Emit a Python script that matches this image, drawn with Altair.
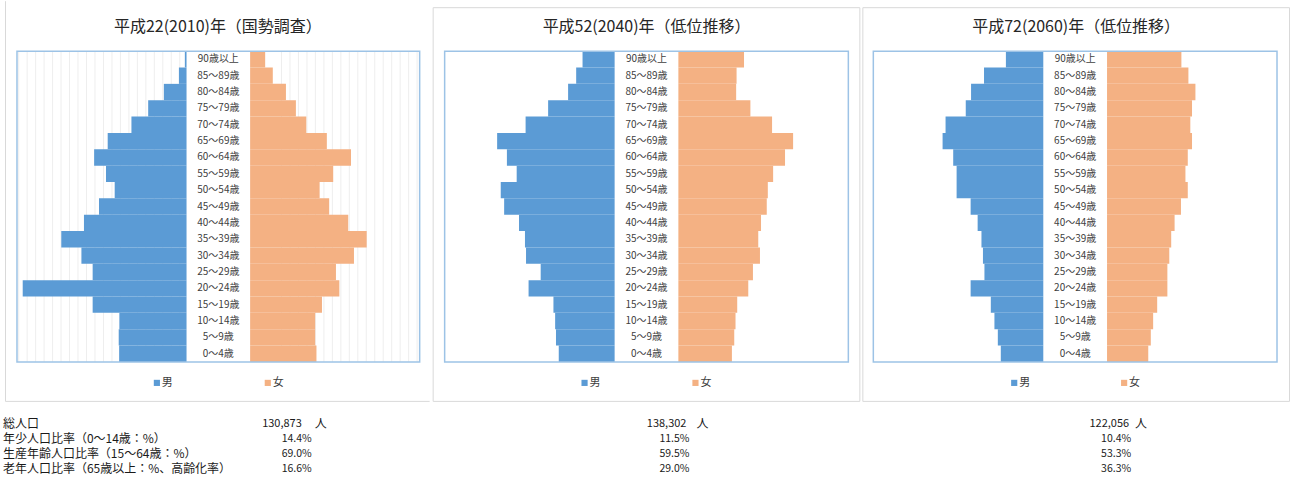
import altair as alt
import pandas as pd

# ---------------- data ----------------
ages_top = ["90歳以上", "85～89歳", "80～84歳", "75～79歳", "70～74歳", "65～69歳",
            "60～64歳", "55～59歳", "50～54歳", "45～49歳", "40～44歳", "35～39歳",
            "30～34歳", "25～29歳", "20～24歳", "15～19歳", "10～14歳", "5～9歳", "0～4歳"]

male_2010 = [80, 360, 1070, 1810, 2600, 3720, 4360, 3800, 3390, 4130, 4840, 5910,
             4960, 4430, 7730, 4430, 3170, 3200, 3180]
female_2010 = [710, 1070, 1690, 2160, 2650, 3620, 4760, 3920, 3280, 3730, 4630, 5500,
               4900, 4050, 4210, 3390, 3070, 3070, 3130]
male_2040 = [1510, 1810, 2190, 3130, 4190, 5530, 5070, 4610, 5360, 5200, 4500, 4220,
             4170, 3480, 4050, 2880, 2800, 2760, 2630]
female_2040 = [3090, 2740, 2720, 3390, 4410, 5400, 5020, 4460, 4210, 4160, 3890, 3760,
               3840, 3510, 3290, 2770, 2690, 2630, 2520]
male_2060 = [1760, 2790, 3400, 3650, 4600, 4740, 4240, 4080, 4080, 3420, 3090, 2910,
             2840, 2770, 3420, 2470, 2300, 2140, 2000]
female_2060 = [3500, 3830, 4160, 4000, 3920, 4000, 3800, 3690, 3800, 3480, 3180, 3020,
               2930, 2840, 2840, 2360, 2170, 2060, 1940]

titles = ["平成22(2010)年（国勢調査）", "平成52(2040)年（低位推移）", "平成72(2060)年（低位推移）"]
series = ["男", "女"]
total_pop = [130873, 138302, 122056]
young_pct = [14.4, 11.5, 10.4]
working_pct = [69.0, 59.5, 53.3]
old_pct = [16.6, 29.0, 36.3]
stat_labels = ["総人口", "年少人口比率（0～14歳：%）", "生産年齢人口比率（15～64歳：%）",
               "老年人口比率（65歳以上：%、高齢化率）"]
unit_label = "人"

males = [male_2010, male_2040, male_2060]
females = [female_2010, female_2040, female_2060]

# ---------------- style / layout ----------------
FONT = "Noto Sans CJK JP"
MALE_C = "#5B9BD5"
FEMALE_C = "#F4B183"
FRAME_C = "#9DC3E6"
CARD_C = "#D9D9D9"
TXT = "#404040"
G = 3000          # gap (in axis units) reserved for the age-label column
XMAX = 8000
FT, FB = 50, 361  # plot-area top / bottom
PW, PH = 430, 481

layout = [
    dict(fl=17, fr=420, tx=218, lm=157, lf=268, num_r=302, unit_l=315, pct_r=312,
         card="p1"),
    dict(fl=14, fr=418, tx=216, lm=154, lf=265, num_r=256, unit_l=266, pct_r=259,
         card=(2.5, 6.5, 429.5, 400.5)),
    dict(fl=13, fr=417, tx=216, lm=154, lf=264, num_r=269, unit_l=275, pct_r=271,
         card=(2.5, 6.5, 429.5, 400.5)),
]
ROWS_Y = [423, 438, 453, 468]

one = pd.DataFrame({"a": [0]})


def panel(i):
    L = layout[i]
    df = pd.DataFrame({"age": ages_top, "male": males[i], "female": females[i]})
    xs = alt.Scale(domain=[-XMAX, G + XMAX], range=[L["fl"], L["fr"]], nice=False, zero=False)
    ys = alt.Scale(domain=ages_top, range=[FT, FB], paddingInner=0, paddingOuter=0)
    yenc = alt.Y("age:N", scale=ys, axis=None, sort=ages_top)
    base = alt.Chart(df)
    layers = []

    # card border
    if L["card"] == "p1":
        layers.append(alt.Chart(one).mark_rule(color=CARD_C, strokeWidth=1).encode(
            x=alt.value(5.5), y=alt.value(0), y2=alt.value(400.5)))
        layers.append(alt.Chart(one).mark_rule(color=CARD_C, strokeWidth=1).encode(
            x=alt.value(5.5), x2=alt.value(430), y=alt.value(400.5)))
    else:
        x0, y0, x1, y1 = L["card"]
        layers.append(alt.Chart(one).mark_rect(filled=False, stroke=CARD_C, strokeWidth=1).encode(
            x=alt.value(x0), x2=alt.value(x1), y=alt.value(y0), y2=alt.value(y1)))

    # vertical gridlines (first panel only)
    if i == 0:
        grid_vals = [80 + 400 * k for k in range(-20, 28)]
        gdf = pd.DataFrame({"g": grid_vals})
        layers.append(alt.Chart(gdf).transform_filter(
            "datum.g <= 0 || datum.g >= 4480").mark_rule(color="#EEEEEE", strokeWidth=1).encode(
            x=alt.X("g:Q", scale=xs, axis=None), y=alt.value(FT), y2=alt.value(FB)))

    layers.append(base.transform_calculate(neg="-datum.male").mark_bar(color=MALE_C).encode(
        x=alt.X("neg:Q", scale=xs, axis=None), x2=alt.datum(0), y=yenc))
    layers.append(base.transform_calculate(fx=f"{G} + datum.female").mark_bar(color=FEMALE_C).encode(
        x=alt.X("fx:Q", scale=xs, axis=None), x2=alt.datum(G), y=yenc))
    layers.append(base.mark_text(font=FONT, fontSize=10, color=TXT).encode(
        x=alt.datum(G / 2), y=yenc, text="age:N"))

    # plot-area frame
    layers.append(alt.Chart(one).mark_rect(filled=False, stroke=FRAME_C, strokeWidth=1.5).encode(
        x=alt.value(L["fl"]), x2=alt.value(L["fr"]), y=alt.value(FT), y2=alt.value(FB)))

    # title
    layers.append(alt.Chart(one).mark_text(font=FONT, fontSize=16, color="#262626").encode(
        x=alt.value(L["tx"]), y=alt.value(26), text=alt.value(titles[i])))

    # legend
    for name, col, lx in [(series[0], MALE_C, L["lm"]), (series[1], FEMALE_C, L["lf"])]:
        layers.append(alt.Chart(one).mark_square(color=col, size=38, opacity=1).encode(
            x=alt.value(lx), y=alt.value(382)))
        layers.append(alt.Chart(one).mark_text(font=FONT, fontSize=11, color=TXT, align="left").encode(
            x=alt.value(lx + 5), y=alt.value(382), text=alt.value(name)))

    # statistics below
    if i == 0:
        for r, lab in enumerate(stat_labels):
            layers.append(alt.Chart(one).mark_text(font=FONT, fontSize=12, color="#1a1a1a",
                                                   align="left").encode(
                x=alt.value(3), y=alt.value(ROWS_Y[r]), text=alt.value(lab)))
    layers.append(alt.Chart(one).mark_text(font=FONT, fontSize=11, color="#1a1a1a", align="right").encode(
        x=alt.value(L["num_r"]), y=alt.value(ROWS_Y[0]), text=alt.value(f"{total_pop[i]:,}")))
    layers.append(alt.Chart(one).mark_text(font=FONT, fontSize=12, color="#1a1a1a", align="left").encode(
        x=alt.value(L["unit_l"]), y=alt.value(ROWS_Y[0]), text=alt.value(unit_label)))
    for r, v in enumerate([young_pct[i], working_pct[i], old_pct[i]]):
        layers.append(alt.Chart(one).mark_text(font=FONT, fontSize=10.5, color="#1a1a1a",
                                               align="right").encode(
            x=alt.value(L["pct_r"]), y=alt.value(ROWS_Y[r + 1]), text=alt.value(f"{v:.1f}%")))

    return alt.layer(*layers).properties(width=PW, height=PH)


chart = alt.hconcat(panel(0), panel(1), panel(2), spacing=0).resolve_scale(
    x="independent", y="independent").properties(padding=0).configure_view(
    strokeWidth=0).configure_concat(spacing=0)

chart.save("out.html", embed_options={"renderer": "svg", "actions": False})
